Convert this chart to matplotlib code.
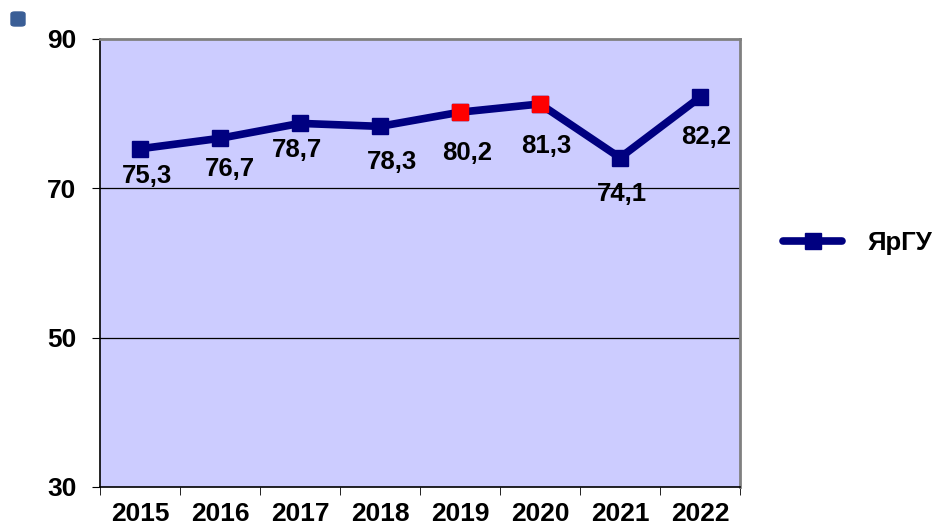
import matplotlib
matplotlib.use("Agg")
import matplotlib.pyplot as plt
from matplotlib.patches import FancyBboxPatch

plt.rcParams['font.family'] = ['Liberation Sans', 'DejaVu Sans']

# data
years = ["2015", "2016", "2017", "2018", "2019", "2020", "2021", "2022"]
values = [75.3, 76.7, 78.7, 78.3, 80.2, 81.3, 74.1, 82.2]
highlight = ["2019", "2020"]
series_name = "ЯрГУ"
y_ticks = [30, 50, 70, 90]

# label placement below each point, in pixels (dx, dy to the middle of the digits)
label_dx = [7, 10, -3, 12, 7, 6, 2, 6]
label_dy = [25, 28, 24, 33, 39, 40, 34, 38]

fig = plt.figure(figsize=(9.32, 5.28), dpi=100)
ax = fig.add_axes([100 / 932, 1 - 487 / 528, 640 / 932, 448 / 528])
ax.set_facecolor("#CCCCFF")

x = list(range(len(years)))
navy = "#000080"
ax.plot(x, values, color=navy, linewidth=5.5, marker="s", markersize=11,
        markerfacecolor=navy, markeredgecolor=navy, label=series_name,
        solid_capstyle="round", zorder=3)

px = 72 / 100
lab_size = 18.5
cap_half = lab_size / px * 0.716 / 2
for i, (yr, v) in enumerate(zip(years, values)):
    if yr in highlight:
        ax.plot(i, v, marker="s", markersize=11, color="#FF0000",
                markeredgecolor="#FF0000", linestyle="none", zorder=4)
    ax.annotate(f"{v:.1f}".replace(".", ","), (i, v),
                xytext=(label_dx[i] * px, -(label_dy[i] + cap_half) * px),
                textcoords="offset points", ha="center", va="baseline",
                fontsize=lab_size, fontweight="bold", zorder=5)

ax.set_xlim(-0.5, len(years) - 0.5)
ax.set_ylim(30, 90)
ax.set_yticks(y_ticks)
ax.set_yticklabels([str(t) for t in y_ticks], fontsize=19, fontweight="bold")
ax.set_xticks(x)
ax.set_xticklabels(years, fontsize=19, fontweight="bold")
ax.set_xticks([i - 0.5 for i in range(len(years) + 1)], minor=True)
ax.tick_params(axis="x", which="major", length=0, pad=11)
ax.tick_params(axis="x", which="minor", length=6, direction="out", color="black")
ax.tick_params(axis="y", length=6, direction="out", pad=11)

for yv in [50, 70]:
    ax.axhline(yv, color="black", linewidth=0.9, zorder=1)

for side in ["top", "right"]:
    ax.spines[side].set_color("#808080")
    ax.spines[side].set_linewidth(2)
for side in ["left", "bottom"]:
    ax.spines[side].set_color("black")
    ax.spines[side].set_linewidth(1.2)

leg = fig.legend(loc="center left", bbox_to_anchor=(783 / 932, 1 - 243 / 528),
                 frameon=False, prop={"size": 18.5, "weight": "bold"},
                 handlelength=2.3, handletextpad=1.0, borderpad=0,
                 borderaxespad=0)

# small icon top-left
icon = FancyBboxPatch((11 / 932, 1 - 26 / 528), 14 / 932, 14 / 528,
                      boxstyle="round,pad=0,rounding_size=0.004",
                      transform=fig.transFigure, facecolor="#3A5E96",
                      edgecolor="#3A5E96")
fig.patches.append(icon)

plt.savefig("out.png", dpi=100)
